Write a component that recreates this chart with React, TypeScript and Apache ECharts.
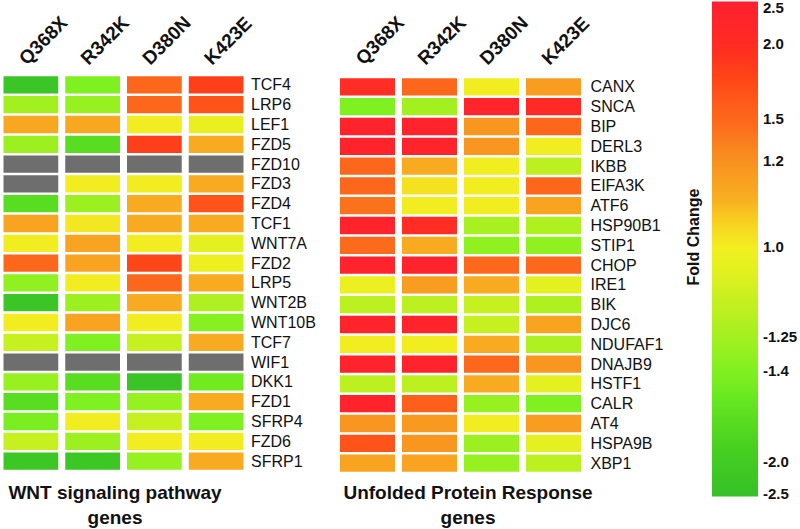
import React, { useEffect, useRef } from 'react';
import * as echarts from 'echarts';

const MUTANTS = ['Q368X', 'R342K', 'D380N', 'K423E'];

const WNT_GENES = ['TCF4', 'LRP6', 'LEF1', 'FZD5', 'FZD10', 'FZD3', 'FZD4', 'TCF1', 'WNT7A', 'FZD2',
  'LRP5', 'WNT2B', 'WNT10B', 'TCF7', 'WIF1', 'DKK1', 'FZD1', 'SFRP4', 'FZD6', 'SFRP1'];
const WNT_Q368X = [-2.3, -1.25, 1.13, -1.28, null, null, -1.7, 1.14, 1.0, 1.5, -1.33, -2.3, 1.0, -1.14, null, -1.3, -1.7, -1.45, -1.14, -2.2];
const WNT_R342K = [-1.42, -1.3, 1.13, -1.7, null, 1.0, -1.28, 1.01, 1.14, 1.14, 1.0, -1.28, 1.14, -1.42, null, -1.7, -1.42, 1.0, -1.28, -2.2];
const WNT_D380N = [1.5, 1.5, 1.0, 1.8, null, 1.0, 1.12, 1.12, 1.0, 1.75, 1.5, 1.12, 1.0, -1.14, null, -2.35, -1.3, -1.14, 1.0, -1.3];
const WNT_K423E = [1.8, 1.65, -1.03, 1.12, null, 1.12, 1.65, 1.12, -1.05, -1.02, 1.12, -1.21, -1.38, 1.12, null, -1.5, 1.12, -1.42, 1.0, 1.12];

const UPR_GENES = ['CANX', 'SNCA', 'BIP', 'DERL3', 'IKBB', 'EIFA3K', 'ATF6', 'HSP90B1', 'STIP1', 'CHOP',
  'IRE1', 'BIK', 'DJC6', 'NDUFAF1', 'DNAJB9', 'HSTF1', 'CALR', 'AT4', 'HSPA9B', 'XBP1'];
const UPR_Q368X = [2.0, -1.42, 2.4, 2.4, 1.5, 1.5, 1.4, 2.4, 1.45, 2.4, -1.02, -1.17, 2.4, 1.0, 2.4, -1.17, 2.4, 1.18, 1.65, 1.14];
const UPR_R342K = [1.5, -1.25, 2.4, 2.4, 1.12, 1.02, 1.0, 2.0, 1.12, 2.4, 1.16, -1.17, 2.4, 1.0, 2.4, -1.17, 1.55, 1.17, 1.18, 1.14];
const UPR_D380N = [1.0, 2.3, 1.18, 1.18, 1.0, 1.0, 1.0, -1.23, -1.33, 1.48, 1.12, -1.14, -1.14, 1.12, 1.48, 1.12, -1.3, 1.0, -1.28, -1.3];
const UPR_K423E = [1.16, 2.1, 1.5, 1.0, -1.17, 1.5, 1.14, -1.21, -1.33, 1.48, -1.05, -1.21, 1.14, -1.21, 1.18, -1.05, -1.42, 1.16, -1.05, -1.17];

// colour scale: fold-change tick values, their label text and relative position on the bar
const SCALE_VALUES = [2.5, 2.0, 1.5, 1.2, 1.0, -1.25, -1.4, -2.0, -2.5];
const SCALE_TEXT = ['2.5', '2.0', '1.5', '1.2', '1.0', '-1.25', '-1.4', '-2.0', '-2.5'];
const SCALE_STOPS = [0.988, 0.917, 0.765, 0.68, 0.506, 0.322, 0.255, 0.069, 0.006];
const SCALE_COLORS = ['#38c028', '#3ec824', '#48d020', '#58dc20', '#68e820', '#80f020', '#98f020',
  '#b0f020', '#c8f020', '#e0f020', '#f0f020', '#f8d420', '#f8b020', '#f89c20', '#f88820',
  '#fc6c1c', '#ff5a1a', '#ff4418', '#ff3020', '#ff2628', '#ff2030'];
const NA_COLOR = '#6e6e6e';
const BAR_STEPS = 247;

const FONT = '"Liberation Sans", Arial, Helvetica, sans-serif';

function toLog(fc: number) {
  return fc > 0 ? Math.log2(fc) : -Math.log2(-fc);
}
const SCALE_LOGS = SCALE_VALUES.map(toLog);

function toScore(fc: number) {
  const l = toLog(fc);
  const L = SCALE_LOGS;
  const S = SCALE_STOPS;
  let i = 0;
  if (l >= L[0]) i = 0;
  else if (l <= L[L.length - 1]) i = L.length - 2;
  else {
    for (let k = 0; k < L.length - 1; k++) {
      if (l <= L[k] && l >= L[k + 1]) { i = k; break; }
    }
  }
  const t = (l - L[i + 1]) / (L[i] - L[i + 1]);
  const s = S[i + 1] + t * (S[i] - S[i + 1]);
  return Math.max(0, Math.min(1, s));
}

function buildPanel(cols: (number | null)[][]) {
  const out: number[][] = [];
  cols.forEach((arr, c) => {
    arr.forEach((v, r) => {
      if (v == null) out.push([c, r, 0.5, 1]);
      else out.push([c, r, toScore(v), 0]);
    });
  });
  return out;
}

const cellRenderer = (gapX: number, gapY: number) => (params: any, api: any) => {
  const c = api.coord([api.value(0), api.value(1)]);
  const sz = api.size([1, 1]);
  const w = sz[0] - gapX;
  const h = sz[1] - gapY;
  return {
    type: 'rect',
    shape: { x: c[0] - w / 2, y: c[1] - h / 2, width: w, height: h },
    style: { fill: api.value(3) ? NA_COLOR : api.visual('color') },
  };
};

export default function App() {
  const ref = useRef<HTMLDivElement>(null);
  useEffect(() => {
    if (!ref.current) return;
    const chart = echarts.init(ref.current, null, { renderer: 'svg' });

    const wntData = buildPanel([WNT_Q368X, WNT_R342K, WNT_D380N, WNT_K423E]);
    const uprData = buildPanel([UPR_Q368X, UPR_R342K, UPR_D380N, UPR_K423E]);
    const barCats = Array.from({ length: BAR_STEPS }, (_, i) => String(i));
    const barData = barCats.map((_, i) => [0, i, (i + 0.5) / BAR_STEPS, 0]);

    const geneYAxis = (gridIndex: number, data: string[], margin: number) => ({
      type: 'category', gridIndex, data, inverse: true, position: 'right',
      axisLine: { show: false }, axisTick: { show: false }, splitLine: { show: false },
      axisLabel: { interval: 0, fontSize: 16, color: '#111', fontFamily: FONT, margin },
    });
    const mutantXAxis = (gridIndex: number) => ({
      type: 'category', gridIndex, data: MUTANTS, position: 'top',
      axisLine: { show: false }, axisTick: { show: false }, splitLine: { show: false },
      axisLabel: { show: false },
    });

    chart.setOption({
      animation: false,
      backgroundColor: '#ffffff',
      grid: [
        { left: 0, top: 75, width: 247, height: 396, outerBoundsMode: 'none', containLabel: false },
        { left: 336.5, top: 77, width: 248, height: 396, outerBoundsMode: 'none', containLabel: false },
        { left: 712, top: 2, width: 46, height: 494, outerBoundsMode: 'none', containLabel: false },
      ],
      xAxis: [
        mutantXAxis(0),
        mutantXAxis(1),
        { type: 'category', gridIndex: 2, data: ['FC'], show: false },
      ],
      yAxis: [
        geneYAxis(0, WNT_GENES, 4),
        geneYAxis(1, UPR_GENES, 6),
        { type: 'category', gridIndex: 2, data: barCats, show: false },
        {
          type: 'value', gridIndex: 2, min: 0, max: 1, position: 'right',
          axisLine: { show: false }, axisTick: { show: false }, splitLine: { show: false },
          axisLabel: {
            customValues: SCALE_STOPS,
            margin: 5, fontSize: 15, fontWeight: 'bold', color: '#111', fontFamily: FONT,
            formatter: (v: number) => {
              let best = 0;
              SCALE_STOPS.forEach((s, i) => { if (Math.abs(s - v) < Math.abs(SCALE_STOPS[best] - v)) best = i; });
              return SCALE_TEXT[best];
            },
          },
        },
      ],
      visualMap: {
        type: 'continuous', show: false, min: 0, max: 1, dimension: 2,
        seriesIndex: [0, 1, 2], inRange: { color: SCALE_COLORS },
      },
      series: [
        { type: 'custom', name: 'WNT', xAxisIndex: 0, yAxisIndex: 0, data: wntData, renderItem: cellRenderer(7, 2.5) },
        { type: 'custom', name: 'UPR', xAxisIndex: 1, yAxisIndex: 1, data: uprData, renderItem: cellRenderer(7, 2.5) },
        {
          type: 'custom', name: 'Fold Change', xAxisIndex: 2, yAxisIndex: 2, data: barData,
          renderItem: (params: any, api: any) => {
            const c = api.coord([api.value(0), api.value(1)]);
            const sz = api.size([1, 1]);
            return {
              type: 'rect',
              shape: { x: c[0] - sz[0] / 2, y: c[1] - sz[1] / 2 - 0.5, width: sz[0], height: sz[1] + 1 },
              style: { fill: api.visual('color') },
            };
          },
        },
      ],
    });

    // rotated column headers placed at the category positions of each heat map's x axis
    const headers: any[] = [];
    [0, 1].forEach((axisIndex) => {
      MUTANTS.forEach((m, i) => {
        const cx = chart.convertToPixel({ xAxisIndex: axisIndex } as any, i) as unknown as number;
        headers.push({
          type: 'text', x: cx - 2, y: 68, rotation: Math.PI / 4,
          style: { text: m, align: 'left', verticalAlign: 'bottom', font: `bold 19px ${FONT}`, fill: '#111' },
        });
      });
    });

    chart.setOption({
      graphic: [
        ...headers,
        {
          type: 'text', x: 115, y: 505,
          style: {
            text: 'WNT signaling pathway\ngenes', align: 'center', verticalAlign: 'middle',
            font: `bold 19px ${FONT}`, lineHeight: 25, fill: '#111',
          },
        },
        {
          type: 'text', x: 468, y: 505,
          style: {
            text: 'Unfolded Protein Response\ngenes', align: 'center', verticalAlign: 'middle',
            font: `bold 19px ${FONT}`, lineHeight: 25, fill: '#111',
          },
        },
        {
          type: 'text', x: 693, y: 237, rotation: Math.PI / 2,
          style: {
            text: 'Fold Change', align: 'center', verticalAlign: 'middle',
            font: `bold 16px ${FONT}`, fill: '#111',
          },
        },
      ],
    });
    return () => chart.dispose();
  }, []);
  return <div ref={ref} style={{ position: 'fixed', left: 0, top: 0, width: 800, height: 529 }} />;
}
